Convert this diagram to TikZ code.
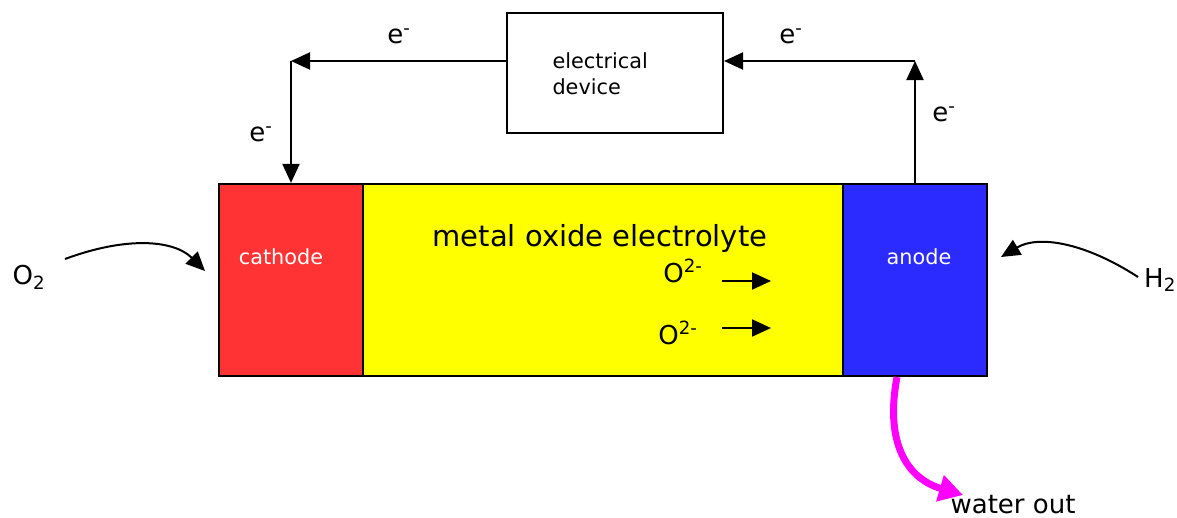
\documentclass[tikz,border=0pt]{standalone}
\usepackage{fontspec}
\setmainfont{DejaVu Sans}
\usetikzlibrary{arrows.meta}
\definecolor{cathred}{HTML}{FF3333}
\definecolor{elyellow}{HTML}{FFFF00}
\definecolor{anblue}{HTML}{2B2BFF}
\definecolor{watermag}{HTML}{FF00FF}
\tikzset{
  cell/.style={draw=black, line width=2.2pt, minimum height=192pt, inner sep=0pt},
  wire/.style={line width=2pt, -{Triangle[length=19pt,width=17pt]}},
  small/.style={font=\fontsize{20.8}{26}\selectfont},
  big/.style={font=\fontsize{26}{30}\selectfont},
  huge/.style={font=\fontsize{29}{34}\selectfont},
}
\begin{document}
\begin{tikzpicture}[x=1pt,y=-1pt]
\useasboundingbox (0,0) rectangle (1177,517);
% cell parts
\node[cell, fill=cathred, minimum width=144pt] (cathode) at (291,280) {};
\node[cell, fill=elyellow, minimum width=480pt] (elec) at (603,280) {};
\node[cell, fill=anblue, minimum width=144pt] (anode) at (915,280) {};
\node[small, text=white] (cathlbl) at (281,257) {cathode};
\node[small, text=white] (anlbl) at (919,257) {anode};
\node[huge] (ellbl) at (600,238) {metal oxide electrolyte};
\node[big, anchor=base] (o1) at (683,282) {O\textsuperscript{2-}};
\node[big, anchor=base] (o2) at (678,344) {O\textsuperscript{2-}};
\coordinate (a1s) at (722,281); \coordinate (a1e) at (771,281);
\coordinate (a2s) at (722,328); \coordinate (a2e) at (771,328);
\draw[wire] (a1s) -- (a1e);
\draw[wire] (a2s) -- (a2e);
% electrical device
\node[draw=black, line width=2pt, minimum width=216pt, minimum height=120pt, inner sep=0pt] (dev) at (615,73) {};
\node[small, align=left, anchor=west] (devlbl) at (549,74) {electrical\\device};
% wires
\coordinate (lc) at (291,61);
\coordinate (rc) at (915,61);
\draw[wire] (dev.west |- lc) -- (lc);
\draw[wire] (lc) -- (lc |- cathode.north);
\draw[wire] (rc |- anode.north) -- (rc);
\draw[wire] (rc) -- (dev.east |- rc);
\node[big] (e1) at (399,36) {e\textsuperscript{-}};
\node[big] (e2) at (791,36) {e\textsuperscript{-}};
\node[big] (e3) at (261,134) {e\textsuperscript{-}};
\node[big] (e4) at (944,114) {e\textsuperscript{-}};
% gases
\node[big] (o2gas) at (29,277) {O\textsubscript{2}};
\node[big] (h2gas) at (1160,280) {H\textsubscript{2}};
\coordinate (o2s) at (65,259);
\coordinate (o2e) at (205,271);
\coordinate (h2s) at (1138,277);
\coordinate (h2e) at (1001,257);
\draw[wire] (o2s) .. controls (127,236) and (174,240) .. (o2e);
\draw[wire] (h2s) .. controls (1084,242) and (1038,235) .. (h2e);
% water
\coordinate (ws) at (897,377);
\coordinate (we) at (963,495);
\draw[watermag, line width=7pt, -{Triangle[length=24pt,width=26pt]}] (ws) .. controls (885,440) and (905,478) .. (we);
\node[big, anchor=base] (water) at (1013,513) {water out};
\end{tikzpicture}
\end{document}
